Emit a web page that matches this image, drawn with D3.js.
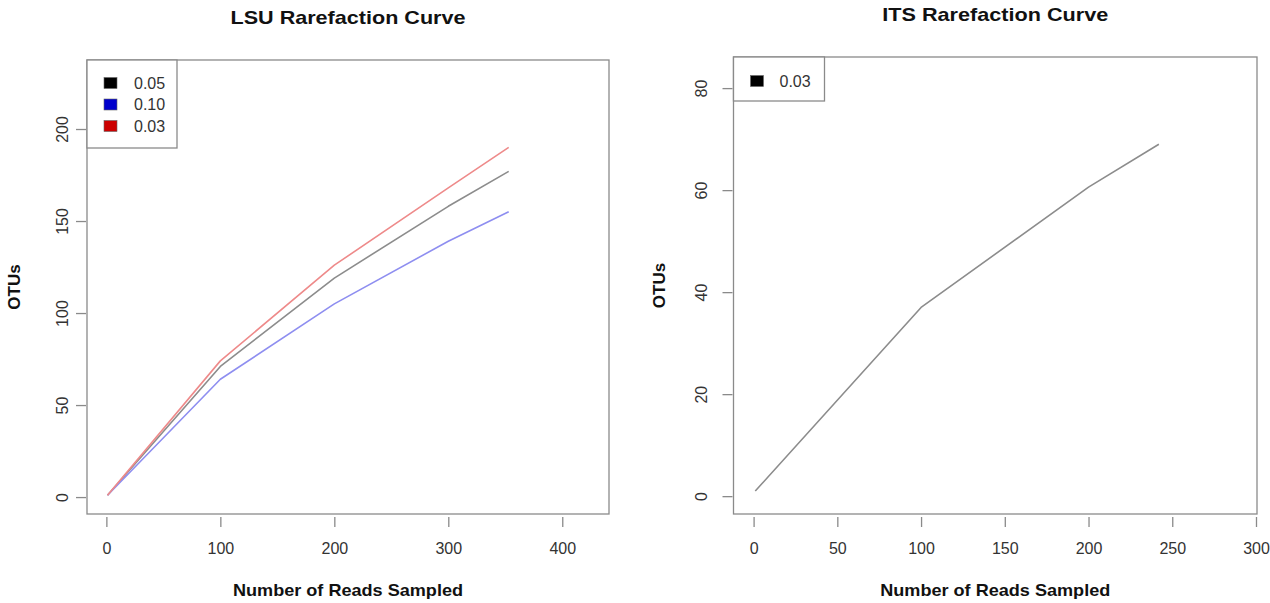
<!DOCTYPE html>
<html><head><meta charset="utf-8">
<script src="https://cdn.jsdelivr.net/npm/d3@7"></script>
<style>
html,body{margin:0;padding:0;background:#fff;}
svg{display:block;font-family:"Liberation Sans",Arial,Helvetica,sans-serif;}
</style></head>
<body>
<svg id="chart" width="1270" height="603"></svg>
<script>
// ---------- data ----------
const lsuReads = [1, 100, 200, 300, 353];
const lsu005 = [1, 71, 119, 158, 177];
const lsu010 = [1, 64, 105, 139, 155];
const lsu003 = [1, 74, 126, 168, 190];
const lsuLegend = ["0.05", "0.10", "0.03"];
const lsuXTicks = [0, 100, 200, 300, 400];
const lsuYTicks = [0, 50, 100, 150, 200];

const itsReads = [1, 100, 200, 242];
const its003 = [1, 37, 60.6, 69];
const itsLegend = ["0.03"];
const itsXTicks = [0, 50, 100, 150, 200, 250, 300];
const itsYTicks = [0, 20, 40, 60, 80];

const titles = ["LSU Rarefaction Curve", "ITS Rarefaction Curve"];
const xLabel = "Number of Reads Sampled";
const yLabel = "OTUs";

// ---------- drawing ----------
const svg = d3.select("#chart");
const axisCol = "#8a8a8a";
const textCol = "#333";

function panel(cfg) {
  const g = svg.append("g");
  const x = d3.scaleLinear().domain(cfg.xDom).range([cfg.left, cfg.right]);
  const y = d3.scaleLinear().domain(cfg.yDom).range([cfg.bottom, cfg.top]);

  // box
  g.append("rect").attr("x", cfg.left).attr("y", cfg.top)
    .attr("width", cfg.right - cfg.left).attr("height", cfg.bottom - cfg.top)
    .attr("fill", "none").attr("stroke", axisCol).attr("stroke-width", 1.3);

  // x axis ticks
  const xa = g.append("g").attr("transform", `translate(0,${cfg.bottom + 3})`)
    .call(d3.axisBottom(x).tickValues(cfg.xTicks).tickSize(10).tickPadding(16).tickFormat(d3.format("d")));
  xa.select(".domain").remove();
  xa.selectAll(".tick line").attr("stroke", axisCol).attr("stroke-width", 1.3);
  xa.selectAll(".tick text").attr("fill", textCol).attr("font-size", 16)
    .attr("font-family", "Liberation Sans, Arial, sans-serif");

  // y axis ticks
  const ya = g.append("g").attr("transform", `translate(${cfg.left - 1},0)`)
    .call(d3.axisLeft(y).tickValues(cfg.yTicks).tickSize(10).tickFormat(d3.format("d")));
  ya.select(".domain").remove();
  ya.selectAll(".tick line").attr("stroke", axisCol).attr("stroke-width", 1.3);
  ya.selectAll(".tick text")
    .attr("fill", textCol).attr("font-size", 16)
    .attr("font-family", "Liberation Sans, Arial, sans-serif")
    .attr("x", null).attr("dy", null)
    .attr("text-anchor", "middle")
    .attr("transform", `translate(${cfg.yLabX - cfg.left + 1},0) rotate(-90)`)
    .attr("dominant-baseline", "central");

  // series
  const line = d3.line().x(d => x(d[0])).y(d => y(d[1]));
  cfg.series.forEach(s => {
    g.append("path").datum(cfg.xs.map((v, i) => [v, s.values[i]]))
      .attr("d", line).attr("fill", "none")
      .attr("stroke", s.lineColor).attr("stroke-width", 1.6)
      .attr("stroke-linejoin", "round");
  });

  // title
  const cx = (cfg.left + cfg.right) / 2;
  g.append("text").attr("x", cx).attr("y", cfg.titleY)
    .attr("text-anchor", "middle").attr("dominant-baseline", "central")
    .attr("font-weight", "bold").attr("font-size", 19).attr("fill", "#111")
    .attr("textLength", cfg.titleLen).attr("lengthAdjust", "spacingAndGlyphs")
    .text(cfg.title);

  // x label
  g.append("text").attr("x", cx).attr("y", 590)
    .attr("text-anchor", "middle").attr("dominant-baseline", "central")
    .attr("font-weight", "bold").attr("font-size", 17).attr("fill", "#111")
    .attr("textLength", 230).attr("lengthAdjust", "spacingAndGlyphs")
    .text(xLabel);

  // y label
  const cy = (cfg.top + cfg.bottom) / 2;
  g.append("text").attr("transform", `translate(${cfg.yTitleX},${cy}) rotate(-90)`)
    .attr("text-anchor", "middle").attr("dominant-baseline", "central")
    .attr("font-weight", "bold").attr("font-size", 17).attr("fill", "#111")
    .text(yLabel);

  // legend
  const L = cfg.legend;
  g.append("rect").attr("x", cfg.left).attr("y", cfg.top)
    .attr("width", L.w).attr("height", L.h)
    .attr("fill", "#fff").attr("stroke", axisCol).attr("stroke-width", 1.3);
  cfg.legendLabels.forEach((lab, i) => {
    const ry = cfg.top + L.firstY + i * L.step;
    g.append("rect").attr("x", cfg.left + L.swX).attr("y", ry - 5.5)
      .attr("width", 13).attr("height", 11)
      .attr("fill", cfg.series[i].swatch).attr("stroke", "#666").attr("stroke-width", 0.6);
    g.append("text").attr("x", cfg.left + L.txX).attr("y", ry)
      .attr("dominant-baseline", "central").attr("font-size", 16).attr("fill", textCol)
      .text(lab);
  });
}

panel({
  left: 87, right: 609, top: 60, bottom: 514,
  xDom: [-17, 441], yDom: [-9.2, 237.5],
  xTicks: lsuXTicks, yTicks: lsuYTicks, yLabX: 62, yTitleX: 14,
  xs: lsuReads,
  series: [
    {values: lsu005, lineColor: "#8c8c8c", swatch: "#000000"},
    {values: lsu010, lineColor: "#8e8ef0", swatch: "#0000cc"},
    {values: lsu003, lineColor: "#ee8a8a", swatch: "#cc0000"}
  ],
  legendLabels: lsuLegend,
  legend: {w: 90, h: 88, firstY: 23, step: 21.5, swX: 17, txX: 47},
  title: titles[0], titleY: 17, titleLen: 235
});

panel({
  left: 733.5, right: 1257, top: 57, bottom: 514,
  xDom: [-12, 300.6], yDom: [-3.5, 86.1],
  xTicks: itsXTicks, yTicks: itsYTicks, yLabX: 701, yTitleX: 659,
  xs: itsReads,
  series: [
    {values: its003, lineColor: "#8c8c8c", swatch: "#000000"}
  ],
  legendLabels: itsLegend,
  legend: {w: 91, h: 44, firstY: 24, step: 21.5, swX: 17, txX: 46},
  title: titles[1], titleY: 14, titleLen: 226
});
</script>
</body></html>
